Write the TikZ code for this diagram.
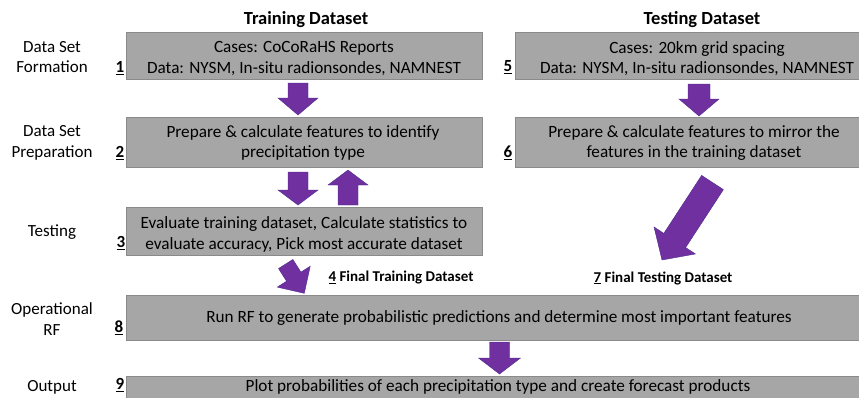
\documentclass[tikz,border=0pt]{standalone}
\usepackage{fontspec}
\setmainfont{Carlito}
\usetikzlibrary{calc}
\definecolor{boxgray}{HTML}{A6A6A6}
\definecolor{boxedge}{HTML}{8A8A8A}
\definecolor{arrpurple}{HTML}{7030A0}
\definecolor{arredge}{HTML}{4B2D8F}
\tikzset{
  stagebox/.style={draw=boxedge, line width=0.8pt, fill=boxgray, anchor=north west, inner sep=0pt},
  boxtext/.style={font=\fontsize{17.2}{20.5}\selectfont, align=center, inner sep=0pt},
  sidelabel/.style={font=\fontsize{17}{20.5}\selectfont, align=center, inner sep=0pt},
  numlabel/.style={font=\fontsize{17}{20}\selectfont\bfseries, inner sep=0pt},
  header/.style={font=\fontsize{18.5}{20}\selectfont\bfseries, inner sep=0pt},
  finallabel/.style={font=\fontsize{15}{18}\selectfont\bfseries, inner sep=0pt},
  blockarr/.style={fill=arrpurple, draw=arredge, line width=0.4pt, line join=miter}
}
% block arrow: start, tip, half shaft width, half head width, head length
\newcommand\barrow[5]{%
  \path (#1) coordinate (ba-s) (#2) coordinate (ba-e);
  \path ($(ba-e)!#5!(ba-s)$) coordinate (ba-h);
  \path[blockarr] ($(ba-s)!#3!90:(ba-e)$) -- ($(ba-h)!#3!-90:(ba-s)$) -- ($(ba-h)!#4!-90:(ba-s)$) -- (ba-e) -- ($(ba-h)!#4!90:(ba-s)$) -- ($(ba-h)!#3!90:(ba-s)$) -- ($(ba-s)!#3!-90:(ba-e)$) -- cycle;
}
\begin{document}
\begin{tikzpicture}[x=1pt,y=-1pt]
\useasboundingbox (0,0) rectangle (859,397);
\fill[white] (0,0) rectangle (859,397);

% headers
\node[header] (h1) at (306,20) {Training Dataset};
\node[header] (h2) at (702,20) {Testing Dataset};

% side labels
\node[sidelabel] (l1) at (52,57) {Data Set\\Formation};
\node[sidelabel] (l2) at (52,143) {Data Set\\Preparation};
\node[sidelabel] (l3) at (52,232) {Testing};
\node[sidelabel] (l4) at (52,319) {Operational\\RF};
\node[sidelabel] (l5) at (52,387) {Output};

% boxes
\node[stagebox, minimum width=356pt, minimum height=47pt] (b1) at (126,32) {};
\node[stagebox, minimum width=350pt, minimum height=47pt] (b5) at (515,32) {};
\node[stagebox, minimum width=356pt, minimum height=50pt] (b2) at (126,117) {};
\node[stagebox, minimum width=350pt, minimum height=50pt] (b6) at (515,117) {};
\node[stagebox, minimum width=356pt, minimum height=48pt] (b3) at (126,207) {};
\node[stagebox, minimum width=740pt, minimum height=45pt] (b8) at (126,295) {};
\node[stagebox, minimum width=740pt, minimum height=30pt] (b9) at (126,376) {};

% box texts
\node[boxtext] (t1) at (304,58.5) {Cases: CoCoRaHS Reports\\Data: NYSM, In-situ radionsondes, NAMNEST};
\node[boxtext] (t5) at (697,58.5) {Cases: 20km grid spacing\\Data: NYSM, In-situ radionsondes, NAMNEST};
\node[boxtext] (t2) at (303,143) {Prepare \& calculate features to identify\\precipitation type};
\node[boxtext] (t6) at (694,143) {Prepare \& calculate features to mirror the\\features in the training dataset};
\node[boxtext] (t3) at (304,234.5) {Evaluate training dataset, Calculate statistics to\\evaluate accuracy, Pick most accurate dataset};
\node[boxtext] (t8) at (499,318) {Run RF to generate probabilistic predictions and determine most important features};
\node[boxtext] (t9) at (498,387) {Plot probabilities of each precipitation type and create forecast products};

% numbers
\node[numlabel] (n1) at (120,68) {\underline{1}};
\node[numlabel] (n2) at (120,153) {\underline{2}};
\node[numlabel] (n3) at (121,243) {\underline{3}};
\node[numlabel] (n8) at (119,328) {\underline{8}};
\node[numlabel] (n9) at (120,385) {\underline{9}};
\node[numlabel] (n5) at (508,67) {\underline{5}};
\node[numlabel] (n6) at (508,153) {\underline{6}};

% final labels
\node[finallabel] (f4) at (401,278) {\underline{4} Final Training Dataset};
\node[finallabel] (f7) at (663,278) {\underline{7} Final Testing Dataset};

% arrows
\barrow{298,83}{298,115}{10pt}{20pt}{17pt}
\barrow{699,84}{699,116}{11pt}{20pt}{17pt}
\barrow{298,172}{298,205}{10pt}{20pt}{15pt}
\barrow{348,205}{348,170}{10pt}{20pt}{15pt}
\barrow{285.7,264}{304.3,293.3}{8.5pt}{19.5pt}{19.7pt}
\barrow{712.5,182.5}{662,260}{13pt}{24.7pt}{23.3pt}
\barrow{499.5,342}{499.5,374}{10pt}{21pt}{16pt}
\end{tikzpicture}
\end{document}
